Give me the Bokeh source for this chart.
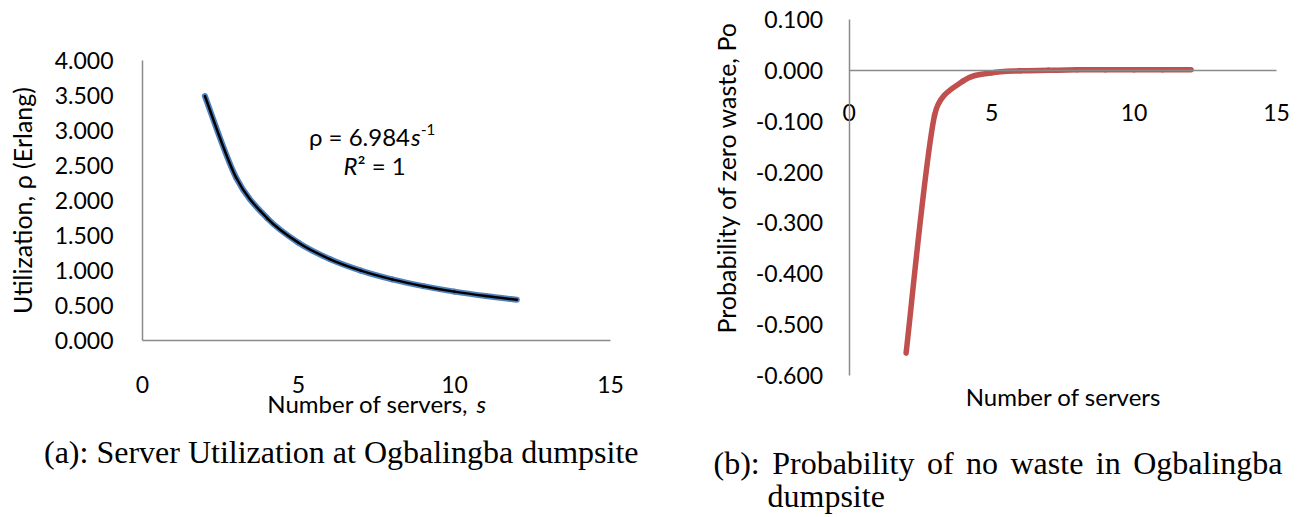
import math
from bokeh.plotting import figure
from bokeh.models import Range1d, FixedTicker, NumeralTickFormatter, Label, ColumnDataSource
from bokeh.layouts import row
from bokeh.embed import file_html
from bokeh.resources import INLINE

# ---------------- data ----------------
servers = [2, 3, 4, 5, 6, 7, 8, 9, 10, 11, 12]
utilization = [3.492, 2.328, 1.746, 1.397, 1.164, 0.998, 0.873, 0.776, 0.698, 0.635, 0.582]
prob_zero = [-0.556, -0.088, -0.021, -0.005, -0.001, 0.000, 0.001, 0.001, 0.001, 0.001, 0.001]

x_ticks = [0, 5, 10, 15]
util_ticks = [0.0, 0.5, 1.0, 1.5, 2.0, 2.5, 3.0, 3.5, 4.0]
prob_ticks = [-0.6, -0.5, -0.4, -0.3, -0.2, -0.1, 0.0, 0.1]

title_a_y = "Utilization, ρ (Erlang)"
title_a_x = "Number of servers,"
title_a_x_it = "s"
eq_main = "ρ = 6.984"
eq_var = "s"
eq_exp = "-1"
r2_var = "R"
r2_rest = "² = 1"
title_b_y = "Probability of zero waste, Po"
title_b_x = "Number of servers"
caption_a = "(a): Server Utilization at Ogbalingba dumpsite"
caption_b1 = "(b): Probability of no waste in Ogbalingba"
caption_b2 = "dumpsite"

SANS = "Lato"
SERIF = "Liberation Serif"
AXIS_GRAY = "#8a8a8a"

# Times / Liberation Serif advance widths (1/1000 em), used to justify caption line
SERIF_W = {"(": 333, ")": 333, ":": 278, " ": 250, "a": 444, "b": 500, "d": 500, "e": 444,
           "f": 333, "g": 500, "i": 278, "l": 278, "m": 778, "n": 500, "o": 500, "p": 500,
           "r": 333, "s": 389, "t": 278, "u": 500, "v": 500, "w": 722, "y": 500, "z": 444,
           "O": 722, "P": 556, "S": 556, "U": 722}

# ---------------- layout geometry (screen pixels) ----------------
A = dict(x0=0, w=700, h=515, box=(142, 610, 60, 340), xr=(0, 15), yr=(0, 4))
B = dict(x0=700, w=600, h=515, box=(848.6, 1276, 19, 375), xr=(0, 15), yr=(-0.6, 0.1))


def mapper(g):
    left, right, top, bottom = g["box"]
    (xa, xb), (ya, yb) = g["xr"], g["yr"]
    fx = lambda px: xa + (px - left) / (right - left) * (xb - xa)
    fy = lambda py: ya + (bottom - py) / (bottom - top) * (yb - ya)
    sx = (right - left) / (xb - xa)
    sy = (bottom - top) / (yb - ya)
    return fx, fy, sx, sy


def smooth_segments(xs, ys, sx, sy):
    """Excel-like smoothed line: cubic Bezier control points per segment."""
    n = len(xs)
    out = dict(x0=[], y0=[], x1=[], y1=[], cx0=[], cy0=[], cx1=[], cy1=[])

    def dist(i, j):
        return math.hypot((xs[j] - xs[i]) * sx, (ys[j] - ys[i]) * sy)

    for i in range(n - 1):
        ip = max(i - 1, 0)
        inn = min(i + 2, n - 1)
        seg = dist(i, i + 1)
        d0 = dist(ip, i + 1)
        d1 = dist(i, inn)
        f0 = 1 / 6
        f1 = 1 / 6
        if d0 / 6 > seg / 2 and d0 > 0:
            f0 = (seg / 2) / d0
        if d1 / 6 > seg / 2 and d1 > 0:
            f1 = (seg / 2) / d1
        out["x0"].append(xs[i]); out["y0"].append(ys[i])
        out["x1"].append(xs[i + 1]); out["y1"].append(ys[i + 1])
        out["cx0"].append(xs[i] + (xs[i + 1] - xs[ip]) * f0)
        out["cy0"].append(ys[i] + (ys[i + 1] - ys[ip]) * f0)
        out["cx1"].append(xs[i + 1] - (xs[inn] - xs[i]) * f1)
        out["cy1"].append(ys[i + 1] - (ys[inn] - ys[i]) * f1)
    return out


def make_fig(g):
    fx, fy, sx, sy = mapper(g)
    p = figure(width=g["w"], height=g["h"], output_backend="svg", toolbar_location=None,
               x_range=Range1d(fx(g["x0"]), fx(g["x0"] + g["w"])),
               y_range=Range1d(fy(g["h"]), fy(0)),
               min_border=0, min_border_left=0, min_border_right=0,
               min_border_top=0, min_border_bottom=0)
    p.outline_line_color = None
    p.xgrid.visible = False
    p.ygrid.visible = False
    p.background_fill_color = "white"
    p.border_fill_color = "white"
    p.xaxis.fixed_location = 0
    p.yaxis.fixed_location = g["xr"][0]
    p.xaxis.bounds = g["xr"]
    p.yaxis.bounds = g["yr"]
    for ax in (p.xaxis[0], p.yaxis[0]):
        ax.axis_line_color = AXIS_GRAY
        ax.axis_line_width = 1.5
        ax.major_tick_line_color = None
        ax.minor_tick_line_color = None
        ax.major_label_text_font = SANS
        ax.major_label_text_color = "black"
    return p, fx, fy, sx, sy


def lab(p, x, y, text, size, font=SANS, style="normal", align="left",
        baseline="alphabetic", angle=0):
    p.add_layout(Label(x=x, y=y, text=text, text_font=font, text_font_size=size,
                       text_font_style=style, text_align=align, text_baseline=baseline,
                       angle=angle, angle_units="deg", text_color="black"))


def serif_width(s, size):
    return sum(SERIF_W.get(c, 500) for c in s) / 1000.0 * size


def justified(p, fx, fy, text, left_px, right_px, base_px, size):
    words = text.split(" ")
    natural = sum(serif_width(w, size) for w in words)
    gap = (right_px - left_px - natural) / (len(words) - 1)
    x = left_px
    for w in words:
        lab(p, fx(x), fy(base_px), w, f"{size}px", font=SERIF)
        x += serif_width(w, size) + gap


# ---------------- chart (a) ----------------
pa, fxa, fya, sxa, sya = make_fig(A)
pa.xaxis.ticker = FixedTicker(ticks=x_ticks)
pa.yaxis.ticker = FixedTicker(ticks=util_ticks)
pa.yaxis.formatter = NumeralTickFormatter(format="0.000")
pa.xaxis.major_label_text_font_size = "23px"
pa.yaxis.major_label_text_font_size = "23px"
pa.yaxis.major_label_standoff = 23
pa.xaxis.major_label_standoff = 29

src_a = ColumnDataSource(smooth_segments(servers, utilization, sxa, sya))
pa.bezier(x0="x0", y0="y0", x1="x1", y1="y1", cx0="cx0", cy0="cy0", cx1="cx1", cy1="cy1",
          source=src_a, line_color="#4F81BD", line_width=6, line_cap="round")
pa.bezier(x0="x0", y0="y0", x1="x1", y1="y1", cx0="cx0", cy0="cy0", cx1="cx1", cy1="cy1",
          source=src_a, line_color="black", line_width=2.5, line_cap="round")

lab(pa, fxa(21), fya(200), title_a_y, "25px", align="center", baseline="middle", angle=90)
lab(pa, fxa(468), fya(403), title_a_x, "24px", align="right")
lab(pa, fxa(476), fya(403), title_a_x_it, "24px", style="italic")
lab(pa, fxa(409.5), fya(136), eq_main, "24px", align="right")
lab(pa, fxa(410.5), fya(136), eq_var, "24px", style="italic")
lab(pa, fxa(420.5), fya(129), eq_exp, "15px")
lab(pa, fxa(357), fya(165), r2_var, "24px", style="italic", align="right")
lab(pa, fxa(357), fya(165), r2_rest, "24px")
lab(pa, fxa(43.5), fya(451), caption_a, "32px", font=SERIF)

# ---------------- chart (b) ----------------
pb, fxb, fyb, sxb, syb = make_fig(B)
pb.xaxis.ticker = FixedTicker(ticks=x_ticks)
pb.yaxis.ticker = FixedTicker(ticks=prob_ticks)
pb.yaxis.formatter = NumeralTickFormatter(format="0.000")
pb.xaxis.major_label_text_font_size = "23px"
pb.yaxis.major_label_text_font_size = "23px"
pb.yaxis.major_label_standoff = 20
pb.xaxis.major_label_standoff = 28

src_b = ColumnDataSource(smooth_segments(servers, prob_zero, sxb, syb))
pb.bezier(x0="x0", y0="y0", x1="x1", y1="y1", cx0="cx0", cy0="cy0", cx1="cx1", cy1="cy1",
          source=src_b, line_color="#C0504D", line_width=5.5, line_cap="round")

lab(pb, fxb(725), fyb(177), title_b_y, "25px", align="center", baseline="middle", angle=90)
lab(pb, fxb(1063), fyb(396), title_b_x, "24px", align="center")
justified(pb, fxb, fyb, caption_b1, 713, 1282, 462, 32)
lab(pb, fxb(767), fyb(495), caption_b2, "32px", font=SERIF)

layout = row(pa, pb)
open("out.html", "w").write(file_html(layout, INLINE))
